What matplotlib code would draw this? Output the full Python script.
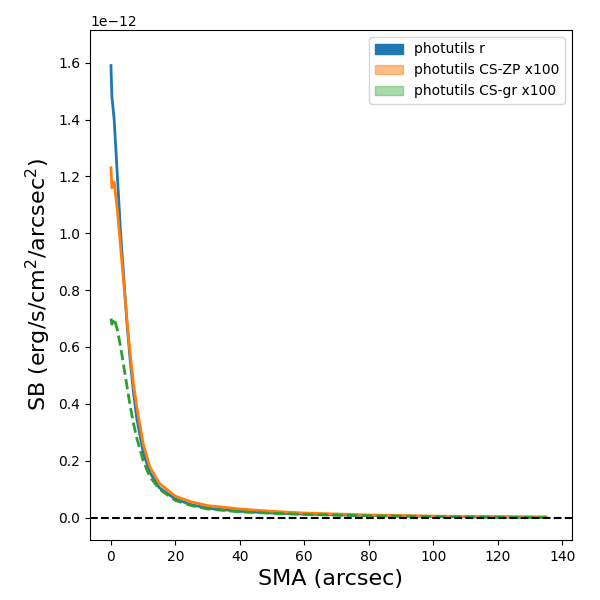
import matplotlib.pyplot as plt
from matplotlib.patches import Patch

# SMA in arcsec, SB in units of 1e-12 erg/s/cm^2/arcsec^2
sma = [0, 0.3, 1, 2, 3, 4, 5, 6, 7, 8, 10, 12, 15, 20, 25, 30, 40, 50, 60, 80, 100, 120, 135]
sb_r = [1.59, 1.48, 1.40, 1.20, 1.00, 0.84, 0.68, 0.55, 0.44, 0.35, 0.23, 0.16, 0.105, 0.065,
        0.045, 0.033, 0.022, 0.016, 0.012, 0.007, 0.004, 0.002, 0.001]
sb_zp = [1.23, 1.16, 1.18, 1.08, 0.95, 0.82, 0.69, 0.57, 0.47, 0.39, 0.26, 0.18, 0.12, 0.075,
         0.055, 0.042, 0.030, 0.022, 0.016, 0.009, 0.005, 0.003, 0.002]
sb_gr = [0.70, 0.68, 0.70, 0.66, 0.60, 0.53, 0.46, 0.39, 0.33, 0.28, 0.20, 0.145, 0.10, 0.06,
         0.042, 0.030, 0.020, 0.015, 0.011, 0.006, 0.003, 0.001, 0.0]

scale = 1e-12
fig, ax = plt.subplots(figsize=(6, 6), dpi=100)
ax.plot(sma, [v * scale for v in sb_r], color='C0', lw=2)
ax.plot(sma, [v * scale for v in sb_zp], color='C1', lw=2)
ax.plot(sma, [v * scale for v in sb_gr], color='C2', lw=2, ls='--')
ax.axhline(0, color='k', ls='--')

handles = [Patch(color='C0', label='photutils r'),
           Patch(color='C1', alpha=0.5, label='photutils CS-ZP x100'),
           Patch(color='C2', alpha=0.4, label='photutils CS-gr x100')]
ax.legend(handles=handles, loc='upper right')

ax.set_xlim(-6.5, 143)
ax.set_ylim(-0.079e-12, 1.715e-12)
ax.set_xlabel('SMA (arcsec)', fontsize=16)
ax.set_ylabel(r'SB (erg/s/cm$^2$/arcsec$^2$)', fontsize=16)
plt.subplots_adjust(left=0.15, right=0.953, top=0.95, bottom=0.1)
plt.savefig('out.png')
